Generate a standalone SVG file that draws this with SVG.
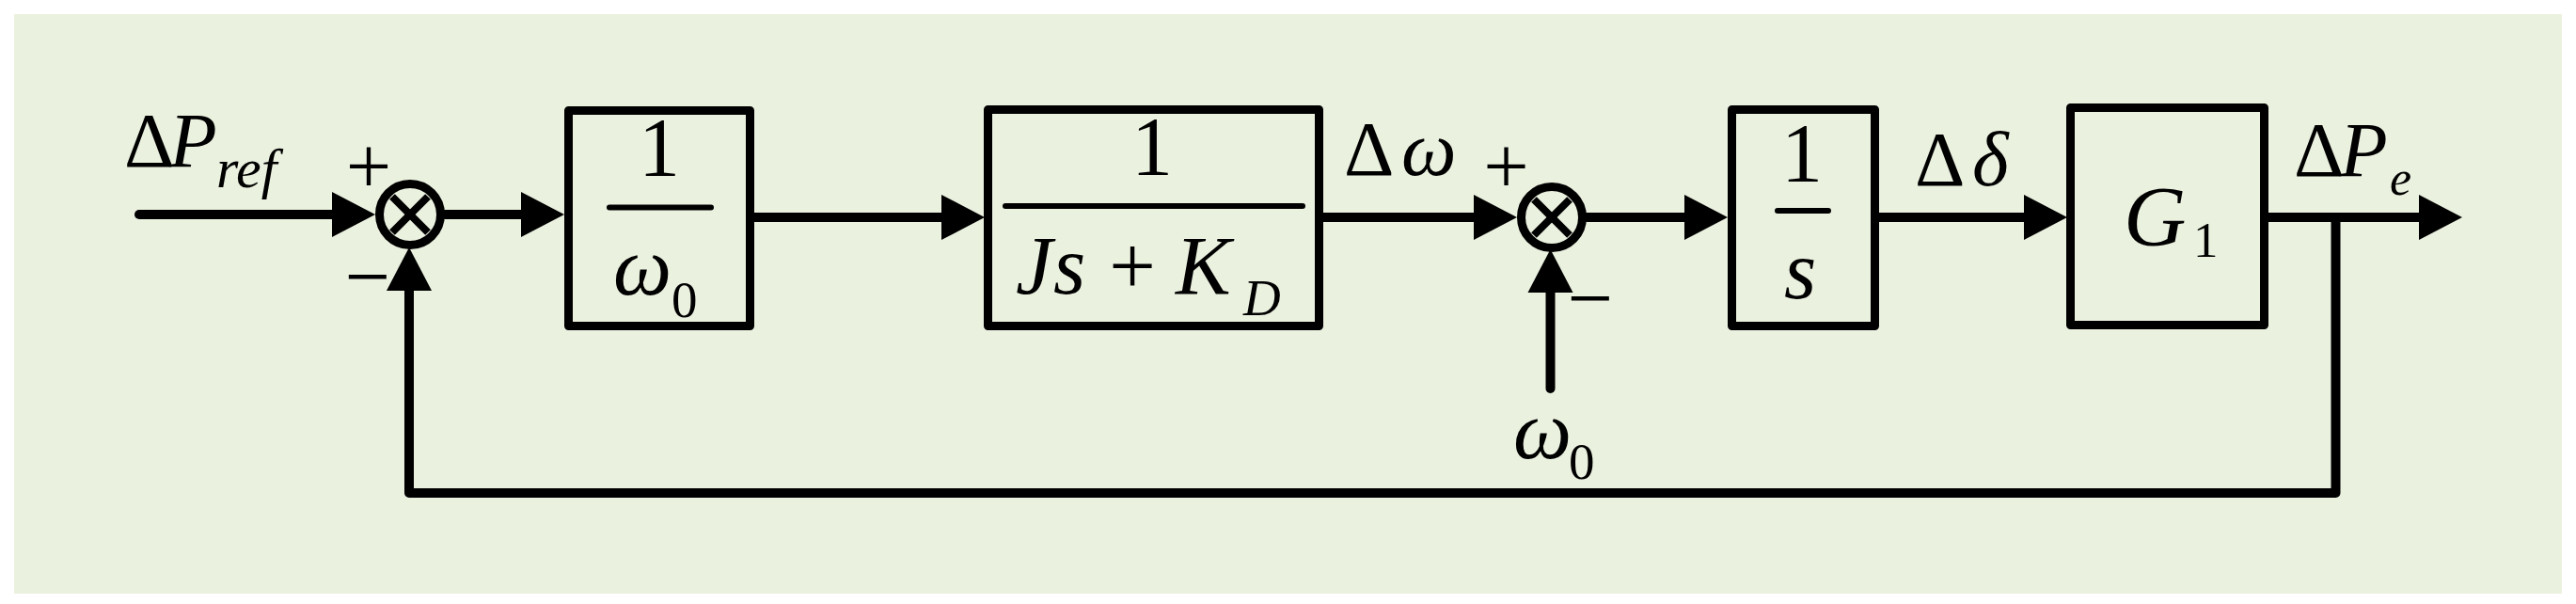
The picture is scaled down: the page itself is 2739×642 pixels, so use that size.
<svg xmlns="http://www.w3.org/2000/svg" width="2739" height="642" viewBox="0 0 2739 642">
<style>
.bg{fill:#EAF1DF}
.box{fill:none;stroke:#000;stroke-width:9;stroke-linejoin:round}
.wire{fill:none;stroke:#000;stroke-width:10;stroke-linecap:round;stroke-linejoin:round}
.bar{stroke:#000;stroke-width:6;stroke-linecap:round}
.sum{fill:none;stroke:#000;stroke-width:9}
.x{stroke:#000;stroke-width:8}
text{font-family:"Liberation Serif","Times New Roman",serif;fill:#000}
.it{font-style:italic}
.big{font-size:88px}
.lbl{font-size:83px}
.sub{font-size:55px}
.sign{font-size:86px}
</style>
<defs>
<marker id="ah" markerUnits="userSpaceOnUse" markerWidth="46" markerHeight="48" refX="16" refY="24" orient="auto" overflow="visible">
<path d="M0,0 L46,24 L0,48 Z" fill="#000"/>
</marker>
</defs>
<rect x="0" y="0" width="2739" height="642" fill="#fff"/>
<rect class="bg" x="15" y="15" width="2709" height="616"/>

<g id="connectors">
<path class="wire" d="M148,228 L369,228" marker-end="url(#ah)"/>
<path class="wire" d="M473,228 L570,228" marker-end="url(#ah)"/>
<path class="wire" d="M802,231 L1017,231" marker-end="url(#ah)"/>
<path class="wire" d="M1407,231 L1583,231" marker-end="url(#ah)"/>
<path class="wire" d="M1687,231 L1807,231" marker-end="url(#ah)"/>
<path class="wire" d="M1998,231 L2168,231" marker-end="url(#ah)"/>
<path class="wire" d="M2412,231 L2588,231" marker-end="url(#ah)"/>
<path class="wire" d="M2483.5,231 L2483.5,524 L435,524 L435,293" marker-end="url(#ah)"/>
<path class="wire" d="M1648.5,413 L1648.5,295" marker-end="url(#ah)"/>
</g>

<g id="sum1">
<circle class="sum" cx="436" cy="228" r="32.5"/>
<line class="x" x1="417" y1="209" x2="455" y2="247"/>
<line class="x" x1="455" y1="209" x2="417" y2="247"/>
<text class="sign" x="392" y="206" text-anchor="middle">+</text>
<text class="sign" x="391" y="323" text-anchor="middle">−</text>
</g>

<g id="sum2">
<circle class="sum" cx="1650" cy="231" r="32.5"/>
<line class="x" x1="1631" y1="212" x2="1669" y2="250"/>
<line class="x" x1="1669" y1="212" x2="1631" y2="250"/>
<text class="sign" x="1601.5" y="206" text-anchor="middle">+</text>
<text class="sign" x="1691" y="346" text-anchor="middle">−</text>
</g>

<g id="box-inv-w0">
<rect class="box" x="604.5" y="117.5" width="193" height="229"/>
<text class="big" x="701" y="186" text-anchor="middle">1</text>
<line class="bar" x1="648" y1="220.5" x2="756" y2="220.5"/>
<text class="big it" x="652" y="313">ω</text>
<text class="sub" x="714" y="337">0</text>
</g>

<g id="box-inertia">
<rect class="box" x="1050.5" y="116.5" width="352" height="230"/>
<text class="big" x="1225" y="185" text-anchor="middle">1</text>
<line class="bar" x1="1069" y1="219" x2="1385" y2="219"/>
<text class="big it" x="1080" y="312">J</text>
<text class="big it" x="1120" y="312">s</text>
<text class="big" x="1204" y="312" text-anchor="middle">+</text>
<text class="big it" x="1250" y="312">K</text>
<text class="sub it" x="1322" y="335">D</text>
</g>

<g id="box-integrator">
<rect class="box" x="1841.5" y="116.5" width="152" height="230"/>
<text class="big" x="1916" y="192" text-anchor="middle">1</text>
<line class="bar" x1="1890" y1="224" x2="1944" y2="224"/>
<text class="big it" x="1914" y="317" text-anchor="middle">s</text>
</g>

<g id="box-g1">
<rect class="box" x="2201.5" y="114.5" width="206" height="231"/>
<text class="it" font-size="92" x="2258" y="261">G</text>
<text font-size="53" x="2332" y="273">1</text>
</g>

<g id="labels">
<text class="lbl" x="132" y="177">Δ</text>
<text class="lbl it" x="180" y="177">P</text>
<text class="it" font-size="60" x="230" y="199">ref</text>

<text class="lbl" x="1429" y="186">Δ</text>
<text class="lbl it" x="1490" y="186">ω</text>

<text class="big it" x="1609" y="487">ω</text>
<text class="sub" x="1668" y="509">0</text>

<text class="lbl" x="2036" y="197">Δ</text>
<text class="lbl it" x="2097" y="197">δ</text>

<text class="lbl" x="2439" y="187">Δ</text>
<text class="lbl it" x="2488" y="187">P</text>
<text class="it" font-size="52" x="2541" y="207">e</text>
</g>
</svg>
